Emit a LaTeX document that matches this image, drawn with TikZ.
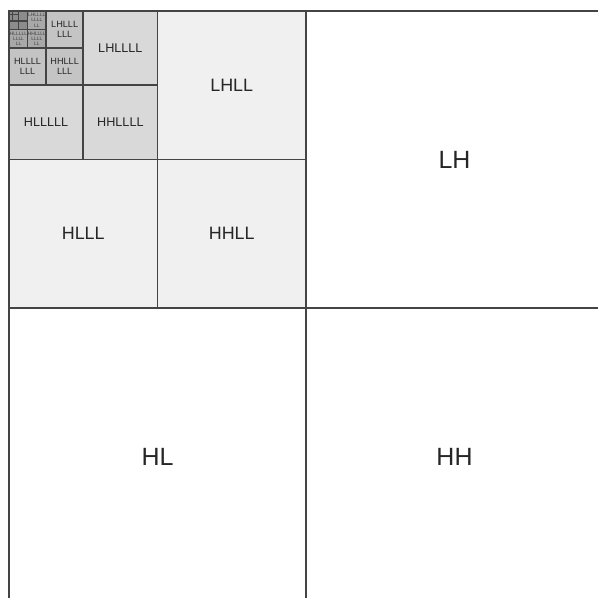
\documentclass[tikz,border=0pt]{standalone}
\usepackage{fontspec}
\setmainfont{Liberation Sans}
\usetikzlibrary{positioning}

\definecolor{edge}{HTML}{444444}
\definecolor{lvltwo}{HTML}{F0F0F0}
\definecolor{lvlthree}{HTML}{D9D9D9}
\definecolor{lvlfour}{HTML}{C4C4C4}
\definecolor{lvlfive}{HTML}{A8A8A8}
\definecolor{lvlsix}{HTML}{8C8C8C}

\begin{document}
\begin{tikzpicture}[
  band/.style={draw=edge, line width=0.45pt, inner sep=0pt, align=center,
               text=black!85},
  bandone/.style={band, fill=white, minimum size=2.97cm,
                  font=\fontsize{7.1}{8}\selectfont},
  bandtwo/.style={band, fill=lvltwo, minimum size=1.485cm,
                  font=\fontsize{5.1}{6}\selectfont},
  bandthree/.style={band, fill=lvlthree, minimum size=0.7425cm,
                    font=\fontsize{3.6}{4.2}\selectfont},
  bandfour/.style={band, fill=lvlfour, minimum size=0.37125cm,
                   font=\fontsize{2.6}{2.9}\selectfont},
  bandfive/.style={band, fill=lvlfive, minimum size=0.185625cm,
                   font=\fontsize{1.4}{1.5}\selectfont, text=black!75}
]
% page of 5.98 x 5.98, the grid runs past its right and bottom edge
\useasboundingbox (0,0) rectangle (5.98,5.98);
\clip (0,0) rectangle (5.98,5.98);

% first level
\node[bandone] (lh) at (4.545,4.385) {LH};
\node[bandone] (hl) at (1.575,1.415) {HL};
\node[bandone] (hh) at (4.545,1.415) {HH};

% second level
\node[bandtwo] (lhll) at (2.3175,5.1275) {LHLL};
\node[bandtwo] (hlll) at (0.8325,3.6425) {HLLL};
\node[bandtwo] (hhll) at (2.3175,3.6425) {HHLL};

% third level
\node[bandthree] (lhllll) at (1.20375,5.49875) {LHLLLL};
\node[bandthree] (hlllll) at (0.46125,4.75625) {HLLLLL};
\node[bandthree] (hhllll) at (1.20375,4.75625) {HHLLLL};

% fourth level
\node[bandfour] (lhllllll) at (0.646875,5.684375) {LHLLL\\LLL};
\node[bandfour] (hlllllll) at (0.275625,5.313125) {HLLLL\\LLL};
\node[bandfour] (hhllllll) at (0.646875,5.313125) {HHLLL\\LLL};

% fifth level
\node[bandfive] (lhlllllll) at (0.36797,5.77719) {LHLLLL\\LLLL\\LL};
\node[bandfive] (hllllllll) at (0.18516,5.59156) {HLLLLL\\LLLL\\LL};
\node[bandfive] (hhlllllll) at (0.36797,5.59156) {HHLLLL\\LLLL\\LL};

% sixth level and below
\node[band, fill=lvlsix, minimum size=0.185625cm] (rest) at (0.18281,5.77719) {};
\draw[edge, line width=0.4pt] (rest.north) ++(0,0) -- (rest.south);
\draw[edge, line width=0.4pt] ([yshift=-0.2pt]rest.west) -- ([yshift=-0.2pt]rest.east);
\draw[edge, line width=0.3pt] ([xshift=0.0464cm]rest.north west) -- ([xshift=0.0464cm]rest.west);
\draw[edge, line width=0.3pt] ([yshift=-0.0464cm]rest.north west) -- ([yshift=-0.0464cm]rest.north);
\end{tikzpicture}
\end{document}
